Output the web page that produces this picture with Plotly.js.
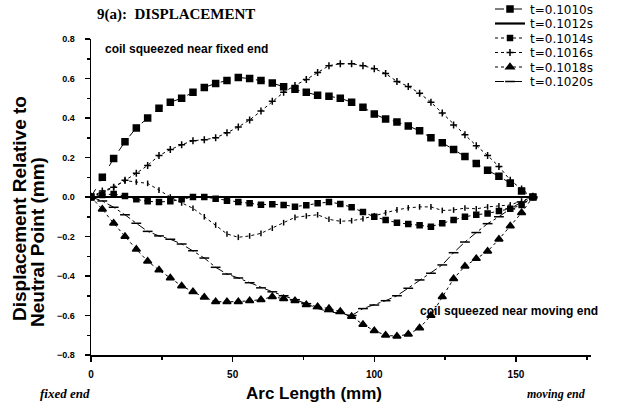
<!DOCTYPE html>
<html>
<head>
<meta charset="utf-8">
<script src="https://cdn.plot.ly/plotly-3.0.1.min.js"></script>
<style>html,body{margin:0;padding:0;background:#fff}#chart{width:622px;height:411px}</style>
</head>
<body>
<div id="chart"></div>
<script>
// Arc length (mm)
const arcLength = [0,4,8,12,16,20,24,28,32,36,40,44,48,52,56,60,64,68,72,76,80,84,88,92,96,100,104,108,112,116,120,124,128,132,136,140,144,148,152,156];

const seriesNames = ['t=0.1010s','t=0.1012s','t=0.1014s','t=0.1016s','t=0.1018s','t=0.1020s'];

const t1010 = [0,0.10,0.195,0.28,0.35,0.40,0.45,0.48,0.50,0.53,0.555,0.575,0.59,0.605,0.60,0.59,0.577,0.558,0.545,0.53,0.515,0.51,0.50,0.48,0.455,0.42,0.395,0.38,0.36,0.335,0.30,0.275,0.24,0.205,0.17,0.135,0.105,0.07,0.03,0];
const t1012 = [0,0,0,0,0,0,0,0,0,0,0,0,0,0,0,0,0,0,0,0,0,0,0,0,0,0,0,0,0,0,0,0,0,0,0,0,0,0,0,0];
const t1014 = [0,0.01,0.015,0.005,-0.012,-0.022,-0.025,-0.022,-0.012,0.0,0.0,-0.009,-0.019,-0.025,-0.032,-0.039,-0.037,-0.04,-0.049,-0.042,-0.032,-0.025,-0.035,-0.052,-0.076,-0.10,-0.116,-0.13,-0.137,-0.143,-0.15,-0.133,-0.116,-0.10,-0.09,-0.083,-0.071,-0.06,-0.04,0];
const t1016 = [0,0.03,0.05,0.085,0.12,0.16,0.21,0.24,0.265,0.285,0.29,0.30,0.325,0.355,0.39,0.435,0.485,0.53,0.565,0.595,0.63,0.665,0.675,0.675,0.665,0.65,0.625,0.585,0.56,0.525,0.48,0.425,0.365,0.315,0.26,0.21,0.155,0.085,0.04,0];
const t1018 = [0,-0.062,-0.133,-0.20,-0.265,-0.325,-0.37,-0.41,-0.45,-0.48,-0.508,-0.53,-0.53,-0.53,-0.525,-0.52,-0.505,-0.515,-0.525,-0.545,-0.555,-0.565,-0.58,-0.605,-0.645,-0.677,-0.70,-0.705,-0.695,-0.663,-0.60,-0.505,-0.414,-0.35,-0.312,-0.275,-0.214,-0.147,-0.08,0];
const t1020 = [0,-0.02,-0.052,-0.09,-0.133,-0.174,-0.197,-0.214,-0.238,-0.272,-0.309,-0.356,-0.39,-0.41,-0.434,-0.46,-0.48,-0.50,-0.52,-0.54,-0.565,-0.58,-0.59,-0.60,-0.565,-0.547,-0.525,-0.50,-0.462,-0.42,-0.386,-0.344,-0.282,-0.228,-0.18,-0.135,-0.10,-0.06,-0.025,0];
const extraCurve = [0,0.022,0.049,0.083,0.076,0.069,0.035,0.0,-0.03,-0.057,-0.10,-0.142,-0.187,-0.204,-0.197,-0.184,-0.158,-0.13,-0.103,-0.096,-0.09,-0.113,-0.123,-0.12,-0.11,-0.095,-0.08,-0.065,-0.055,-0.05,-0.05,-0.068,-0.066,-0.056,-0.06,-0.05,-0.045,-0.04,-0.02,0];

const xTickVals = [0,50,100,150];
const yTickVals = [-0.8,-0.6,-0.4,-0.2,0.0,0.2,0.4,0.6,0.8];

const blk = '#000';
const L = 91, R = 591, T = 39, B = 355;
function px(x){return (x-L)/(R-L);} function py(y){return (B-y)/(B-T);}

function tr(y, name, sym, size, dash, width, show, legendId) {
  const t = {x: arcLength, y: y, name: name, type: 'scatter', mode: sym ? 'lines+markers' : 'lines',
    showlegend: show,
    line: {color: blk, width: width, dash: dash},
    marker: {symbol: sym || 'circle', size: size, color: blk, line: {color: blk, width: 1.5}}};
  if (legendId) t.legend = legendId;
  return t;
}
const data = [
  tr(t1010, seriesNames[0], 'square', 6, 'dash', 1, true, 'legend'),
  tr(t1012, seriesNames[1], null, 0, 'solid', 2.2, true, 'legend2'),
  tr(t1014, seriesNames[2], 'square', 5, 'dot', 1, true, 'legend3'),
  tr(t1016, seriesNames[3], 'cross-thin', 5, 'dot', 1, true, 'legend4'),
  tr(t1018, seriesNames[4], 'triangle-up', 7, 'dot', 1, true, 'legend5'),
  tr(t1020, seriesNames[5], 'line-ew', 7, 'dashdot', 1, true, 'legend6'),
  tr(extraCurve, '', 'line-ns', 4, 'dot', 1, false)
];

const legendRows = [9, 23.5, 38, 52.5, 67, 81.5];
function leg(row) {
  return {x: px(490), y: py(row), xanchor: 'left', yanchor: 'middle', bgcolor: 'rgba(0,0,0,0)',
    font: {size: 12, family: 'DejaVu Sans, sans-serif'}, borderwidth: 0};
}

const layout = {
  width: 622, height: 411,
  margin: {l: L, r: 622-R, t: T, b: 411-B, pad: 0, autoexpand: false},
  paper_bgcolor: '#fff', plot_bgcolor: '#fff',
  font: {family: 'Liberation Sans, Arial, sans-serif', color: blk},
  showlegend: true,
  legend: leg(legendRows[0]), legend2: leg(legendRows[1]), legend3: leg(legendRows[2]),
  legend4: leg(legendRows[3]), legend5: leg(legendRows[4]), legend6: leg(legendRows[5]),
  xaxis: {range: [0, 176.5], tickvals: xTickVals, ticktext: xTickVals.map(String),
    ticks: 'outside', ticklen: 5, tickwidth: 1.5, tickcolor: blk, ticklabelstandoff: 4,
    minor: {dtick: 25, ticks: 'outside', ticklen: 3, tickcolor: blk},
    showline: true, linecolor: blk, linewidth: 2, showgrid: false, zeroline: false,
    tickfont: {size: 10, weight: 'bold'}},
  yaxis: {range: [-0.8, 0.8], tickvals: yTickVals, tickformat: '.1f',
    ticks: 'outside', ticklen: 5, tickwidth: 1.5, tickcolor: blk, ticklabelstandoff: 8,
    minor: {dtick: 0.1, ticks: 'outside', ticklen: 3, tickcolor: blk},
    showline: true, linecolor: blk, linewidth: 1.5, showgrid: false, zeroline: false,
    tickfont: {size: 9, weight: 'bold'}},
  annotations: [
    {xref: 'paper', yref: 'paper', x: px(95), y: py(14), xanchor: 'left', yanchor: 'middle', showarrow: false,
      text: '9(a):  DISPLACEMENT', font: {family: 'Liberation Serif, serif', size: 15, weight: 'bold'}},
    {xref: 'paper', yref: 'paper', x: px(103), y: py(49), xanchor: 'left', yanchor: 'middle', showarrow: false,
      text: 'coil squeezed near fixed end', font: {size: 12, weight: 'bold'}},
    {xref: 'paper', yref: 'paper', x: px(418), y: py(311), xanchor: 'left', yanchor: 'middle', showarrow: false,
      text: 'coil squeezed near moving end', font: {size: 12, weight: 'bold'}},
    {xref: 'paper', yref: 'paper', x: px(314), y: py(393), xanchor: 'center', yanchor: 'middle', showarrow: false,
      text: 'Arc Length (mm)', font: {size: 17, weight: 'bold'}},
    {xref: 'paper', yref: 'paper', x: px(38), y: py(393), xanchor: 'left', yanchor: 'middle', showarrow: false,
      text: '<i>fixed end</i>', font: {family: 'Liberation Serif, serif', size: 13, weight: 'bold'}},
    {xref: 'paper', yref: 'paper', x: px(525), y: py(394), xanchor: 'left', yanchor: 'middle', showarrow: false,
      text: '<i>moving end</i>', font: {family: 'Liberation Serif, serif', size: 12, weight: 'bold'}},
    {xref: 'paper', yref: 'paper', x: px(19), y: py(209), xanchor: 'center', yanchor: 'middle', showarrow: false,
      textangle: -90, text: 'Displacement Relative to', font: {size: 19, weight: 'bold'}},
    {xref: 'paper', yref: 'paper', x: px(37), y: py(242), xanchor: 'center', yanchor: 'middle', showarrow: false,
      textangle: -90, text: 'Neutral Point (mm)', font: {size: 19, weight: 'bold'}}
  ]
};
Plotly.newPlot('chart', data, layout, {staticPlot: true, displayModeBar: false});
</script>
</body>
</html>
